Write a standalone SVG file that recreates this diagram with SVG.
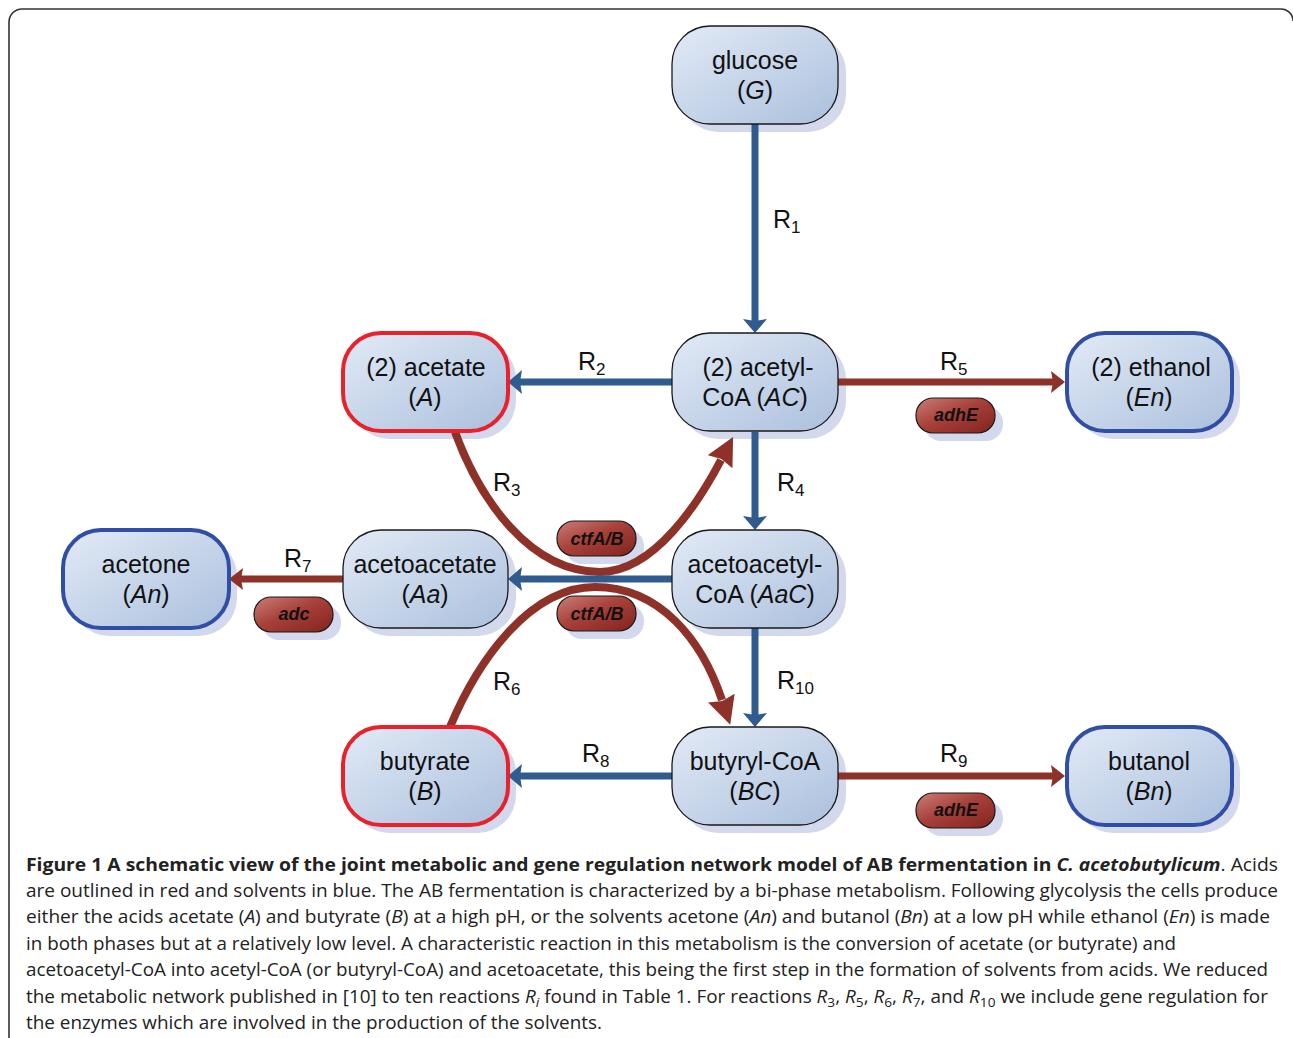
<svg xmlns="http://www.w3.org/2000/svg" width="1293" height="1038" viewBox="0 0 1293 1038">
<style>
.shadow{fill:#d4d8ec}
.node{fill:url(#gn);stroke:#1a1a1a;stroke-width:1.3}
.acid{fill:url(#gn);stroke:#e8212b;stroke-width:4}
.solv{fill:url(#gn);stroke:#2f4ea4;stroke-width:4}
.nt{font-family:"Liberation Sans",Arial,sans-serif;font-size:25px;fill:#111;text-anchor:middle}
.lbl{font-family:"Liberation Sans",Arial,sans-serif;font-size:25px;fill:#111}
.sub{font-size:17px}
.pill{fill:url(#gp);stroke:#1a1a1a;stroke-width:1.2}
.pt{font-family:"Liberation Sans",Arial,sans-serif;font-size:18px;font-weight:bold;font-style:italic;fill:#111;text-anchor:middle}
.blue{stroke:#2f5b8f;stroke-width:7;fill:none;marker-end:url(#ab)}
.red{stroke:#8e3229;stroke-width:7;fill:none;marker-end:url(#ar)}
.curve{stroke:#8e3229;stroke-width:8;fill:none;marker-end:url(#ac)}
.cap{font-family:"Open Sans","DejaVu Sans",sans-serif;font-size:18px;fill:#222}
.capb{font-weight:bold}
</style>
<defs>
<linearGradient id="gn" x1="0" y1="0" x2="1" y2="1">
<stop offset="0" stop-color="#e2eaf6"/>
<stop offset="1" stop-color="#abc0dd"/>
</linearGradient>
<linearGradient id="gp" x1="0" y1="0" x2="1" y2="1">
<stop offset="0" stop-color="#cc7e7a"/>
<stop offset="0.45" stop-color="#a8413a"/>
<stop offset="1" stop-color="#82231d"/>
</linearGradient>
<marker id="ab" markerUnits="userSpaceOnUse" markerWidth="16" markerHeight="26" refX="2" refY="12" orient="auto">
<path d="M0,0 L14,12 L0,24 L2,12 z" fill="#2f5b8f"/>
</marker>
<marker id="ar" markerUnits="userSpaceOnUse" markerWidth="16" markerHeight="24" refX="2" refY="11" orient="auto">
<path d="M0,0 L14,11 L0,22 L2,11 z" fill="#8e3229"/>
</marker>
<marker id="ac" markerUnits="userSpaceOnUse" markerWidth="30" markerHeight="30" refX="2" refY="14" orient="auto">
<path d="M0,0 L28,14 L0,28 L3,14 z" fill="#8e3229"/>
</marker>
</defs>
<rect width="1293" height="1038" fill="#ffffff"/>
<path d="M9,1038 V22 A13,13 0 0 1 22,9 H1280 A12,12 0 0 1 1293,21" fill="none" stroke="#333" stroke-width="1.6"/>

<g id="shadows">
<rect class="shadow" x="680" y="34" width="166" height="98" rx="38"/>
<rect class="shadow" x="680" y="341" width="166" height="98" rx="38"/>
<rect class="shadow" x="351" y="341" width="165" height="98" rx="38"/>
<rect class="shadow" x="1075" y="341" width="165" height="98" rx="38"/>
<rect class="shadow" x="71" y="538" width="166" height="98" rx="38"/>
<rect class="shadow" x="351" y="538" width="165" height="98" rx="38"/>
<rect class="shadow" x="680" y="538" width="166" height="98" rx="38"/>
<rect class="shadow" x="351" y="735" width="165" height="98" rx="38"/>
<rect class="shadow" x="680" y="735" width="166" height="98" rx="38"/>
<rect class="shadow" x="1075" y="735" width="165" height="98" rx="38"/>
<rect class="shadow" x="924" y="406" width="79" height="35" rx="17"/>
<rect class="shadow" x="924" y="801" width="79" height="35" rx="17"/>
<rect class="shadow" x="565" y="529" width="79" height="35" rx="17"/>
<rect class="shadow" x="565" y="604" width="79" height="35" rx="17"/>
<rect class="shadow" x="262" y="605" width="79" height="35" rx="17"/>
</g>

<g id="connectors">
<path class="curve" d="M455,432 C480,500 530,572 600,572 C655,572 700,500 721,460"/>
<path class="curve" d="M450,727 C478,660 530,587 595,587 C660,587 702,640 722,700"/>
<line class="blue" x1="755" y1="124" x2="755" y2="321"/>
<line class="blue" x1="672" y1="382" x2="520" y2="382"/>
<line class="red" x1="838" y1="382" x2="1053" y2="382"/>
<line class="blue" x1="755" y1="432" x2="755" y2="518"/>
<line class="blue" x1="672" y1="579" x2="520" y2="579"/>
<line class="red" x1="343" y1="579" x2="241" y2="579"/>
<line class="blue" x1="755" y1="628" x2="755" y2="715"/>
<line class="blue" x1="672" y1="776" x2="520" y2="776"/>
<line class="red" x1="838" y1="776" x2="1053" y2="776"/>
</g>

<g id="reaction-labels">
<text class="lbl" x="773" y="228">R<tspan class="sub" dy="5">1</tspan></text>
<text class="lbl" x="578" y="370">R<tspan class="sub" dy="5">2</tspan></text>
<text class="lbl" x="940" y="370">R<tspan class="sub" dy="5">5</tspan></text>
<text class="lbl" x="493" y="491">R<tspan class="sub" dy="5">3</tspan></text>
<text class="lbl" x="777" y="491">R<tspan class="sub" dy="5">4</tspan></text>
<text class="lbl" x="284" y="567">R<tspan class="sub" dy="5">7</tspan></text>
<text class="lbl" x="493" y="690">R<tspan class="sub" dy="5">6</tspan></text>
<text class="lbl" x="777" y="689">R<tspan class="sub" dy="5">10</tspan></text>
<text class="lbl" x="582" y="762">R<tspan class="sub" dy="5">8</tspan></text>
<text class="lbl" x="940" y="762">R<tspan class="sub" dy="5">9</tspan></text>
</g>

<g id="glucose">
<rect class="node" x="672" y="26" width="166" height="98" rx="38"/>
<text class="nt" x="755" y="69">glucose</text>
<text class="nt" x="755" y="99">(<tspan font-style="italic">G</tspan>)</text>
</g>
<g id="acetylCoA">
<rect class="node" x="672" y="333" width="166" height="98" rx="38"/>
<text class="nt" x="758" y="376">(2) acetyl-</text>
<text class="nt" x="755" y="406">CoA (<tspan font-style="italic">AC</tspan>)</text>
</g>
<g id="acetate">
<rect class="acid" x="343" y="333" width="165" height="98" rx="38"/>
<text class="nt" x="426" y="376">(2) acetate</text>
<text class="nt" x="425" y="406">(<tspan font-style="italic">A</tspan>)</text>
</g>
<g id="ethanol">
<rect class="solv" x="1067" y="333" width="165" height="98" rx="38"/>
<text class="nt" x="1151" y="376">(2) ethanol</text>
<text class="nt" x="1149" y="406">(<tspan font-style="italic">En</tspan>)</text>
</g>
<g id="acetone">
<rect class="solv" x="63" y="530" width="166" height="98" rx="38"/>
<text class="nt" x="146" y="573">acetone</text>
<text class="nt" x="146" y="603">(<tspan font-style="italic">An</tspan>)</text>
</g>
<g id="acetoacetate">
<rect class="node" x="343" y="530" width="165" height="98" rx="38"/>
<text class="nt" x="425" y="573">acetoacetate</text>
<text class="nt" x="425" y="603">(<tspan font-style="italic">Aa</tspan>)</text>
</g>
<g id="acetoacetylCoA">
<rect class="node" x="672" y="530" width="166" height="98" rx="38"/>
<text class="nt" x="755" y="573">acetoacetyl-</text>
<text class="nt" x="755" y="603">CoA (<tspan font-style="italic">AaC</tspan>)</text>
</g>
<g id="butyrate">
<rect class="acid" x="343" y="727" width="165" height="98" rx="38"/>
<text class="nt" x="425" y="770">butyrate</text>
<text class="nt" x="425" y="800">(<tspan font-style="italic">B</tspan>)</text>
</g>
<g id="butyrylCoA">
<rect class="node" x="672" y="727" width="166" height="98" rx="38"/>
<text class="nt" x="755" y="770">butyryl-CoA</text>
<text class="nt" x="755" y="800">(<tspan font-style="italic">BC</tspan>)</text>
</g>
<g id="butanol">
<rect class="solv" x="1067" y="727" width="165" height="98" rx="38"/>
<text class="nt" x="1149" y="770">butanol</text>
<text class="nt" x="1149" y="800">(<tspan font-style="italic">Bn</tspan>)</text>
</g>

<g id="gene-adhE-1">
<rect class="pill" x="916" y="398" width="79" height="35" rx="17"/>
<text class="pt" x="956" y="421">adhE</text>
</g>
<g id="gene-adhE-2">
<rect class="pill" x="916" y="793" width="79" height="35" rx="17"/>
<text class="pt" x="956" y="816">adhE</text>
</g>
<g id="gene-ctfAB-1">
<rect class="pill" x="557" y="521" width="79" height="35" rx="17"/>
<text class="pt" x="597" y="545">ctfA/B</text>
</g>
<g id="gene-ctfAB-2">
<rect class="pill" x="557" y="596" width="79" height="35" rx="17"/>
<text class="pt" x="597" y="620">ctfA/B</text>
</g>
<g id="gene-adc">
<rect class="pill" x="254" y="597" width="79" height="35" rx="17"/>
<text class="pt" x="294" y="620">adc</text>
</g>

<g id="caption">
<text class="cap" x="26" y="871" textLength="1252" lengthAdjust="spacingAndGlyphs"><tspan class="capb">Figure 1 A schematic view of the joint metabolic and gene regulation network model of AB fermentation in <tspan font-style="italic">C. acetobutylicum</tspan></tspan>. Acids</text>
<text class="cap" x="26" y="897" textLength="1252" lengthAdjust="spacingAndGlyphs">are outlined in red and solvents in blue. The AB fermentation is characterized by a bi-phase metabolism. Following glycolysis the cells produce</text>
<text class="cap" x="26" y="923" textLength="1244" lengthAdjust="spacingAndGlyphs">either the acids acetate (<tspan font-style="italic">A</tspan>) and butyrate (<tspan font-style="italic">B</tspan>) at a high pH, or the solvents acetone (<tspan font-style="italic">An</tspan>) and butanol (<tspan font-style="italic">Bn</tspan>) at a low pH while ethanol (<tspan font-style="italic">En</tspan>) is made</text>
<text class="cap" x="26" y="950" textLength="1150" lengthAdjust="spacingAndGlyphs">in both phases but at a relatively low level. A characteristic reaction in this metabolism is the conversion of acetate (or butyrate) and</text>
<text class="cap" x="26" y="976" textLength="1242" lengthAdjust="spacingAndGlyphs">acetoacetyl-CoA into acetyl-CoA (or butyryl-CoA) and acetoacetate, this being the first step in the formation of solvents from acids. We reduced</text>
<text class="cap" x="26" y="1003" textLength="1242" lengthAdjust="spacingAndGlyphs">the metabolic network published in [10] to ten reactions <tspan font-style="italic">R</tspan><tspan font-style="italic" font-size="13" dy="4">i</tspan><tspan dy="-4"> found in Table 1. For reactions </tspan><tspan font-style="italic">R</tspan><tspan font-size="13" dy="4">3</tspan><tspan dy="-4">, </tspan><tspan font-style="italic">R</tspan><tspan font-size="13" dy="4">5</tspan><tspan dy="-4">, </tspan><tspan font-style="italic">R</tspan><tspan font-size="13" dy="4">6</tspan><tspan dy="-4">, </tspan><tspan font-style="italic">R</tspan><tspan font-size="13" dy="4">7</tspan><tspan dy="-4">, and </tspan><tspan font-style="italic">R</tspan><tspan font-size="13" dy="4">10</tspan><tspan dy="-4"> we include gene regulation for</tspan></text>
<text class="cap" x="26" y="1029" textLength="576" lengthAdjust="spacingAndGlyphs">the enzymes which are involved in the production of the solvents.</text>
</g>
</svg>
